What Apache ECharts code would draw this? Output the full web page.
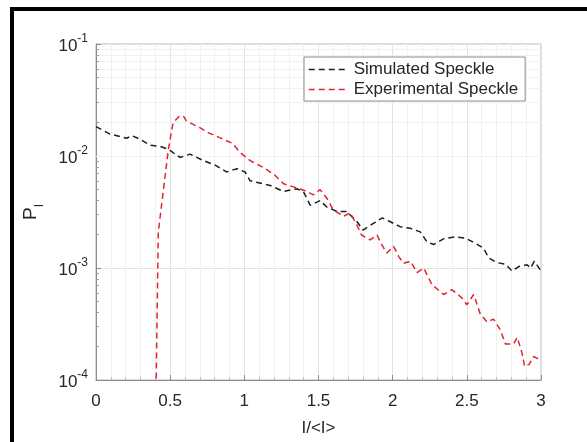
<!DOCTYPE html>
<html><head><meta charset="utf-8">
<script src="https://cdn.jsdelivr.net/npm/echarts@6/dist/echarts.min.js"></script>
<style>html,body{margin:0;padding:0;background:#fff;overflow:hidden}#c{width:587px;height:442px}</style>
</head><body><div id="c"></div>
<script>
// Simulated speckle (black dashed)
const simX = [0, 0.094, 0.207, 0.24, 0.297, 0.364, 0.43, 0.488, 0.533, 0.567, 0.634, 0.724, 0.803, 0.88, 0.95, 1.005, 1.039, 1.174, 1.264, 1.354, 1.399, 1.444, 1.511, 1.556, 1.624, 1.69, 1.76, 1.80, 1.87, 1.93, 1.98, 2.05, 2.12, 2.186, 2.23, 2.276, 2.343, 2.42, 2.49, 2.557, 2.613, 2.647, 2.70, 2.76, 2.805, 2.85, 2.906, 2.93, 2.955, 3.0];
const simY = [0.0183, 0.0157, 0.0144, 0.0152, 0.0141, 0.0125, 0.0122, 0.0115, 0.0104, 0.0097, 0.0104, 0.0091, 0.0083, 0.0072, 0.0077, 0.0072, 0.006, 0.00546, 0.00483, 0.0051, 0.0048, 0.00363, 0.004, 0.0035, 0.0032, 0.0032, 0.00259, 0.00218, 0.0025, 0.0028, 0.0026, 0.00234, 0.00226, 0.0021, 0.00172, 0.00162, 0.00182, 0.0019, 0.00185, 0.00166, 0.0015, 0.00123, 0.00112, 0.00108, 0.00094, 0.00103, 0.00107, 0.001, 0.00115, 0.00094];
// Experimental speckle (red dashed)
const expX = [0.40, 0.42, 0.488, 0.52, 0.56, 0.589, 0.61, 0.70, 0.76, 0.859, 0.92, 0.97, 1.039, 1.129, 1.208, 1.264, 1.331, 1.41, 1.466, 1.511, 1.556, 1.60, 1.67, 1.714, 1.759, 1.79, 1.849, 1.894, 1.928, 1.96, 2.006, 2.04, 2.074, 2.12, 2.164, 2.209, 2.265, 2.343, 2.40, 2.467, 2.50, 2.546, 2.59, 2.636, 2.68, 2.726, 2.76, 2.816, 2.84, 2.87, 2.89, 2.92, 2.95, 3.0];
const expY = [0.00003, 0.0021, 0.0115, 0.0199, 0.0225, 0.0228, 0.0205, 0.0179, 0.0161, 0.0141, 0.013, 0.0108, 0.0091, 0.0079, 0.0067, 0.00565, 0.0053, 0.0049, 0.0045, 0.0050, 0.0042, 0.0033, 0.0029, 0.0031, 0.00242, 0.00197, 0.00178, 0.00197, 0.0016, 0.00136, 0.00156, 0.00127, 0.0011, 0.00115, 0.00091, 0.001, 0.00071, 0.00058, 0.00064, 0.00054, 0.00047, 0.00058, 0.00039, 0.00033, 0.00035, 0.00028, 0.00021, 0.00021, 0.00024, 0.000178, 0.000132, 0.000138, 0.000162, 0.00015];

const seriesNames = ['Simulated Speckle', 'Experimental Speckle'];
const xMin = 0, xMax = 3, xStep = 0.5;
const yMin = 1e-4, yMax = 1e-1;
const xName = 'I/<I>';

// minor log grid positions (2..9 per decade)
const minorGridY = [];
for (let e = -4; e < -1; e++) for (let m = 2; m <= 9; m++) minorGridY.push(m * Math.pow(10, e));

const FONT = 'Liberation Sans';
const TXT = '#262626';
const BLACK = '#1e1e1e', RED = '#e0252f';

const chart = echarts.init(document.getElementById('c'), null, {renderer: 'canvas'});
chart.setOption({
  animation: false,
  backgroundColor: '#fff',
  textStyle: {fontFamily: FONT},
  grid: {left: 96, right: 46, top: 44, bottom: 58, show: true, borderColor: '#b4b4b4', borderWidth: 1, backgroundColor: '#fff'},
  graphic: [{
    type: 'polyline', z: 100, silent: true,
    shape: {points: [[12, 460], [12, 9], [600, 9]]},
    style: {fill: null, stroke: '#000', lineWidth: 4}
  }],
  legend: {
    data: seriesNames,
    orient: 'vertical',
    left: 304, top: 57, z: 10,
    padding: [4, 7, 3, 4],
    itemWidth: 40, itemHeight: 14, itemGap: 3,
    backgroundColor: '#fff',
    borderColor: '#8a8a8a', borderWidth: 1, borderRadius: 0,
    itemStyle: {opacity: 0},
    lineStyle: {width: 1.5, type: [6, 4]},
    textStyle: {fontFamily: FONT, fontSize: 17, color: TXT}
  },
  xAxis: {
    type: 'value', min: xMin, max: xMax, interval: xStep,
    name: xName, nameLocation: 'middle', nameGap: 40,
    nameTextStyle: {fontFamily: FONT, fontSize: 17, color: TXT},
    axisLine: {show: true, lineStyle: {color: '#8c8c8c', width: 1}},
    axisTick: {show: true, inside: true, length: 5, lineStyle: {color: '#8c8c8c'}},
    minorTick: {show: true, splitNumber: 5, length: 3, lineStyle: {color: '#bbbbbb'}},
    axisLabel: {fontFamily: FONT, fontSize: 17, color: TXT, margin: 13},
    splitLine: {show: true, lineStyle: {color: '#e2e2e2', width: 1}},
    minorSplitLine: {show: true, lineStyle: {color: '#f0f0f0', width: 1}}
  },
  yAxis: {
    type: 'log', logBase: 10, min: yMin, max: yMax,
    name: '{p|P}{s|I}', nameLocation: 'middle', nameGap: 56,
    nameTextStyle: {fontFamily: FONT, color: TXT,
      rich: {p: {fontSize: 19, fontFamily: FONT, color: TXT}, s: {fontSize: 12, fontFamily: FONT, color: TXT, verticalAlign: 'bottom', padding: [0, 0, -6, 0]}}},
    axisLine: {show: true, lineStyle: {color: '#8c8c8c', width: 1}},
    axisTick: {show: true, inside: true, length: 5, lineStyle: {color: '#8c8c8c'}},
    axisLabel: {
      margin: 8,
      formatter: v => '{b|10}{s|' + Math.round(Math.log10(v)) + '}',
      rich: {
        b: {fontFamily: FONT, fontSize: 17, color: TXT, lineHeight: 22, verticalAlign: 'bottom'},
        s: {fontFamily: FONT, fontSize: 12, color: TXT, lineHeight: 22, verticalAlign: 'top'}
      }
    },
    splitLine: {show: true, lineStyle: {color: '#e2e2e2', width: 1}}
  },
  series: [
    {
      name: '__minor', type: 'line', data: [], silent: true, z: 1,
      markLine: {
        silent: true, symbol: 'none', label: {show: false}, z: 1,
        lineStyle: {color: '#f0f0f0', type: 'solid', width: 1},
        emphasis: {disabled: true},
        data: minorGridY.map(v => ({yAxis: v}))
      }
    },
    {
      name: '__minorTicks', type: 'line', data: [], silent: true, z: 2,
      markLine: {
        silent: true, symbol: 'none', label: {show: false}, z: 2,
        lineStyle: {color: '#9a9a9a', type: 'solid', width: 1},
        emphasis: {disabled: true},
        data: minorGridY.map(v => [{coord: [xMin, v]}, {coord: [xMin + 0.02, v]}])
      }
    },
    {
      name: seriesNames[0], type: 'line', symbol: 'none', showSymbol: false, clip: true, z: 3,
      color: BLACK,
      lineStyle: {color: BLACK, width: 1.5, type: [6, 4]},
      data: simX.map((x, i) => [x, simY[i]])
    },
    {
      name: seriesNames[1], type: 'line', symbol: 'none', showSymbol: false, clip: true, z: 4,
      color: RED,
      lineStyle: {color: RED, width: 1.5, type: [6, 4]},
      data: expX.map((x, i) => [x, expY[i]])
    }
  ]
});
</script></body></html>
